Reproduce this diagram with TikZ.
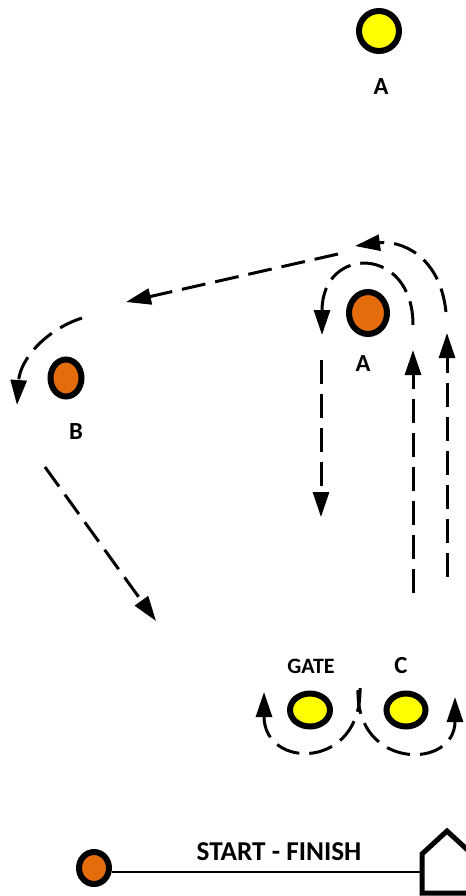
\documentclass[tikz,border=0pt]{standalone}
\usepackage{fontspec}
\setmainfont{Carlito}
\usetikzlibrary{arrows.meta,shapes.geometric}
\definecolor{coneyellow}{rgb}{1.0,1.0,0.0}
\definecolor{coneorange}{HTML}{E46C0A}

\tikzset{
	cone/.style={draw, ellipse, line width=0.12cm, inner sep=0pt},
	run/.style={line width=0.06cm, dash pattern=on 0.48cm off 0.2cm, -{Triangle[length=0.5cm,width=0.32cm]}},
	lbl/.style={font=\bfseries\fontsize{14}{14}\selectfont},
	small lbl/.style={font=\bfseries\fontsize{12.5}{12.5}\selectfont}
}

\begin{document}
\begin{tikzpicture}[x=0.02cm, y=-0.02cm]
	\useasboundingbox (0,0) rectangle (466,896);
	
	% cones
	\node[cone, fill=coneyellow, minimum width=0.8cm, minimum height=0.8cm] (coneA1) at (379,31) {};
	\node[lbl, below of=coneA1, yshift=-0.12cm, xshift=0.04cm] (labA1) {A};
	
	\node[cone, fill=coneorange, minimum width=0.76cm, minimum height=0.84cm] (coneA2) at (368,313) {};
	\node[lbl, below of=coneA2, yshift=-0.02cm, xshift=-0.1cm] (labA2) {A};
	
	\node[cone, fill=coneorange, minimum width=0.62cm, minimum height=0.74cm] (coneB) at (66,378) {};
	\node[lbl, below of=coneB, yshift=-0.08cm, xshift=0.2cm] (labB) {B};
	
	\node[cone, fill=coneyellow, minimum width=0.8cm, minimum height=0.66cm] (gate) at (310,710) {};
	\node[small lbl, above of=gate, yshift=-0.12cm, xshift=0.02cm] (labgate) {GATE};
	
	\node[cone, fill=coneyellow, minimum width=0.78cm, minimum height=0.66cm] (coneC) at (406,710) {};
	\node[lbl, above of=coneC, yshift=-0.12cm, xshift=-0.1cm] (labC) {C};
	
	\node[cone, fill=coneorange, minimum width=0.6cm, minimum height=0.64cm] (start) at (94,868) {};
	
	% finish
	\coordinate (finish) at (422,872);
	\draw[line width=0.1cm, line join=miter] (422,893) -- (422,854) -- (447,831) -- (472,854) -- (472,893) -- cycle;
	\draw[line width=0.04cm] (start.east |- finish) -- (finish);
	\node[lbl, font=\bfseries\fontsize{15.5}{15.5}\selectfont] (labSF) at (279,852) {START - FINISH};
	
	% runs
	\coordinate (p1) at (338,254); \coordinate (p2) at (126,302);
	\draw[run] (p1) -- (p2);
	
	\coordinate (p3) at (82,318); \coordinate (p4) at (17,405);
	\draw[run] (p3) .. controls (45,330) and (20,360) .. (p4);
	
	\coordinate (p5) at (45,467); \coordinate (p6) at (156,621);
	\draw[run] (p5) -- (p6);
	
	\coordinate (p7) at (446,312); \coordinate (p8) at (355,246);
	\draw[run] (p7) .. controls (440,255) and (400,240) .. (p8);
	
	\coordinate (p9) at (413,325); \coordinate (p10) at (322,335);
	\draw[run] (p9) .. controls (413,245) and (322,245) .. (p10);
	
	\coordinate (p11) at (321,360); \coordinate (p12) at (321,517);
	\draw[run] (p11) -- (p12);
	
	\coordinate (p13) at (413,593); \coordinate (p14) at (413,350);
	\draw[run] (p13) -- (p14);
	
	\coordinate (p15) at (447,577); \coordinate (p16) at (447,333);
	\draw[run] (p15) -- (p16);
	
	\coordinate (p17) at (360,688); \coordinate (p18) at (264,692);
	\draw[run] (p17) .. controls (362,770) and (264,770) .. (p18);
	
	\coordinate (p19) at (358,690); \coordinate (p20) at (455,697);
	\draw[run] (p19) .. controls (356,770) and (455,770) .. (p20);
\end{tikzpicture}
\end{document}
